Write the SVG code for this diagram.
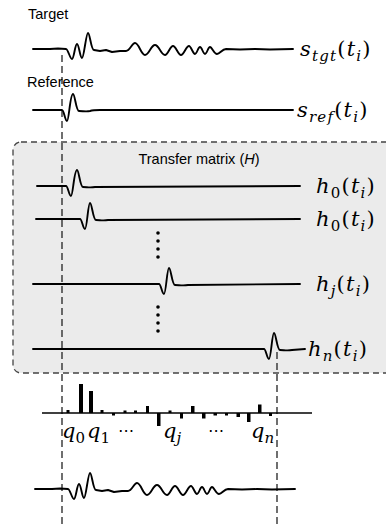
<svg xmlns="http://www.w3.org/2000/svg" xmlns:xlink="http://www.w3.org/1999/xlink" width="386" height="527" viewBox="0 0 386 527">
<style>
.lbl{font-family:"Liberation Sans",Arial,sans-serif;font-size:14.5px;fill:#000}
.m{font-family:"DejaVu Serif","Liberation Serif",serif;font-style:italic;font-size:21px;fill:#000;letter-spacing:1.2px}
.q{letter-spacing:0}
.sub{font-size:15px}
.up{font-style:normal}
.el{font-family:"DejaVu Sans","Noto Sans",sans-serif;font-size:16px;fill:#000}
.w{fill:none;stroke:#000;stroke-width:1.9;stroke-linejoin:round;stroke-linecap:round}
.dash{fill:none;stroke:#222;stroke-width:1.3;stroke-dasharray:7 4}
.bar{fill:#000}
</style>
<defs>
<path id="tgtw" d="M33,0 L50,0 L58,-0.5 L66,0 C68,0 70,10 72,10 C74,10 75,-5 77,-5 C79,-5 80,9 82,9 C84,9 86,-16 88,-16 C90,-16 91,1 94,1 L100,2 L106,1 L112,3 L120,2 L126,2 C130,2 132,-6 135,-6 C139,-6 141,6 145,6 C149,6 151,-4 155,-4 C159,-4 161,6 165,6 C168,6 170,-3 173,-3 C176,-3 178,6 181,6 C184,6 186,-3 189,-3 C191,-3 193,5 195,5 C197,5 198,-2 200,-2 C202,-2 203,5 205,5 C207,5 208,-2 210,-2 C212,-2 214,5 217,5 C220,5 222,0 226,0 L240,0.5 L255,0 L270,0.5 L293,0"/>
</defs>
<g id="box">
<rect x="13" y="142" width="390" height="231" rx="8" fill="#ebebeb" stroke="#444" stroke-width="1.3" stroke-dasharray="6 4"/>
<text class="lbl" x="199" y="164" text-anchor="middle">Transfer matrix (<tspan font-style="italic">H</tspan>)</text>
</g>
<g id="connectors">
<line class="dash" x1="62" y1="55" x2="62" y2="527"/>
<line class="dash" x1="277" y1="352" x2="277" y2="527"/>
</g>
<g id="target">
<text class="lbl" x="28" y="19">Target</text>
<use xlink:href="#tgtw" class="w" transform="translate(0,49)"/>
<text class="m" x="300" y="56">s<tspan class="sub" dy="5">tgt</tspan><tspan class="up" dy="-5">(</tspan>t<tspan class="sub" dy="5">i</tspan><tspan class="up" dy="-5">)</tspan></text>
</g>
<g id="reference">
<text class="lbl" x="27" y="87">Reference</text>
<path class="w" d="M33,110 L62,110 C64,110 65,121 67,121 C69,121 70,94 73,94 C75,94 76,111 79,111 C83,111 86,112 90,111 C93,110 96,110 100,110 L293,110"/>
<text class="m" x="297" y="117">s<tspan class="sub" dy="5">ref</tspan><tspan class="up" dy="-5">(</tspan>t<tspan class="sub" dy="5">i</tspan><tspan class="up" dy="-5">)</tspan></text>
</g>
<g id="h0">
<path class="w" d="M37,186 L66,186 C68,186 69,196 71,196 C73,196 74,170 77,170 C79,170 80,187 83,187 C87,187 90,188 95,187 L300,186"/>
<text class="m" x="316" y="193">h<tspan class="sub up" dy="5">0</tspan><tspan class="up" dy="-5">(</tspan>t<tspan class="sub" dy="5">i</tspan><tspan class="up" dy="-5">)</tspan></text>
</g>
<g id="h1">
<path class="w" d="M36,219 L80,219 C82,219 83,229 85,229 C87,229 88,203 90,203 C92,203 93,220 96,220 C100,220 103,221 108,220 L300,219"/>
<text class="m" x="316" y="226">h<tspan class="sub up" dy="5">0</tspan><tspan class="up" dy="-5">(</tspan>t<tspan class="sub" dy="5">i</tspan><tspan class="up" dy="-5">)</tspan></text>
</g>
<g id="dots1" fill="#000">
<circle cx="158" cy="233" r="1.8"/><circle cx="158" cy="241" r="1.8"/><circle cx="158" cy="249" r="1.8"/><circle cx="158" cy="257" r="1.8"/>
</g>
<g id="hj">
<path class="w" d="M33,284 L159,284 C161,284 162,294 164,294 C166,294 167,268 169,268 C171,268 172,285 175,285 C179,285 183,286 188,285 L300,284"/>
<text class="m" x="316" y="291">h<tspan class="sub" dy="5">j</tspan><tspan class="up" dy="-5">(</tspan>t<tspan class="sub" dy="5">i</tspan><tspan class="up" dy="-5">)</tspan></text>
</g>
<g id="dots2" fill="#000">
<circle cx="158" cy="307" r="1.8"/><circle cx="158" cy="315" r="1.8"/><circle cx="158" cy="323" r="1.8"/><circle cx="158" cy="331" r="1.8"/>
</g>
<g id="hn">
<path class="w" d="M33,349 L264,349 C266,349 267,359 269,359 C271,359 272,333 274,333 C276,333 277,350 280,350 C284,350 287,351 292,350 L305,349"/>
<text class="m" x="308" y="356">h<tspan class="sub" dy="5">n</tspan><tspan class="up" dy="-5">(</tspan>t<tspan class="sub" dy="5">i</tspan><tspan class="up" dy="-5">)</tspan></text>
</g>
<g id="weights">
<line x1="42" y1="413" x2="312" y2="413" stroke="#000" stroke-width="1.5"/>
<rect class="bar" x="66.5" y="410" width="3" height="3"/>
<rect class="bar" x="79" y="384" width="4" height="29"/>
<rect class="bar" x="89" y="391" width="4" height="22"/>
<rect class="bar" x="100.5" y="410" width="3" height="3"/>
<rect class="bar" x="112" y="413" width="3" height="2.5"/>
<rect class="bar" x="123.5" y="410.5" width="3" height="2.5"/>
<rect class="bar" x="134" y="410.5" width="3" height="2.5"/>
<rect class="bar" x="146" y="406" width="3" height="7"/>
<rect class="bar" x="157" y="413" width="3.5" height="13"/>
<rect class="bar" x="168.5" y="410.5" width="3" height="2.5"/>
<rect class="bar" x="180" y="413" width="3" height="5.5"/>
<rect class="bar" x="191" y="406" width="3.5" height="7"/>
<rect class="bar" x="202" y="413" width="3.5" height="5.5"/>
<rect class="bar" x="213.5" y="413" width="3.5" height="2.5"/>
<rect class="bar" x="225" y="413" width="3" height="2.5"/>
<rect class="bar" x="236.5" y="413" width="3.5" height="4"/>
<rect class="bar" x="247" y="413" width="3.5" height="9"/>
<rect class="bar" x="258" y="404.5" width="3.5" height="8.5"/>
<rect class="bar" x="269" y="413" width="3" height="3"/>
<text class="m q" x="62" y="438">q<tspan class="sub up" dy="5">0</tspan></text>
<text class="m q" x="87" y="438">q<tspan class="sub up" dy="5">1</tspan></text>
<text class="el" x="118" y="436">⋯</text>
<text class="m q" x="163" y="438">q<tspan class="sub" dy="5">j</tspan></text>
<text class="el" x="208" y="436">⋯</text>
<text class="m q" x="251" y="438">q<tspan class="sub" dy="5">n</tspan></text>
</g>
<g id="output">
<use xlink:href="#tgtw" class="w" transform="translate(2,489)"/>
</g>
</svg>
